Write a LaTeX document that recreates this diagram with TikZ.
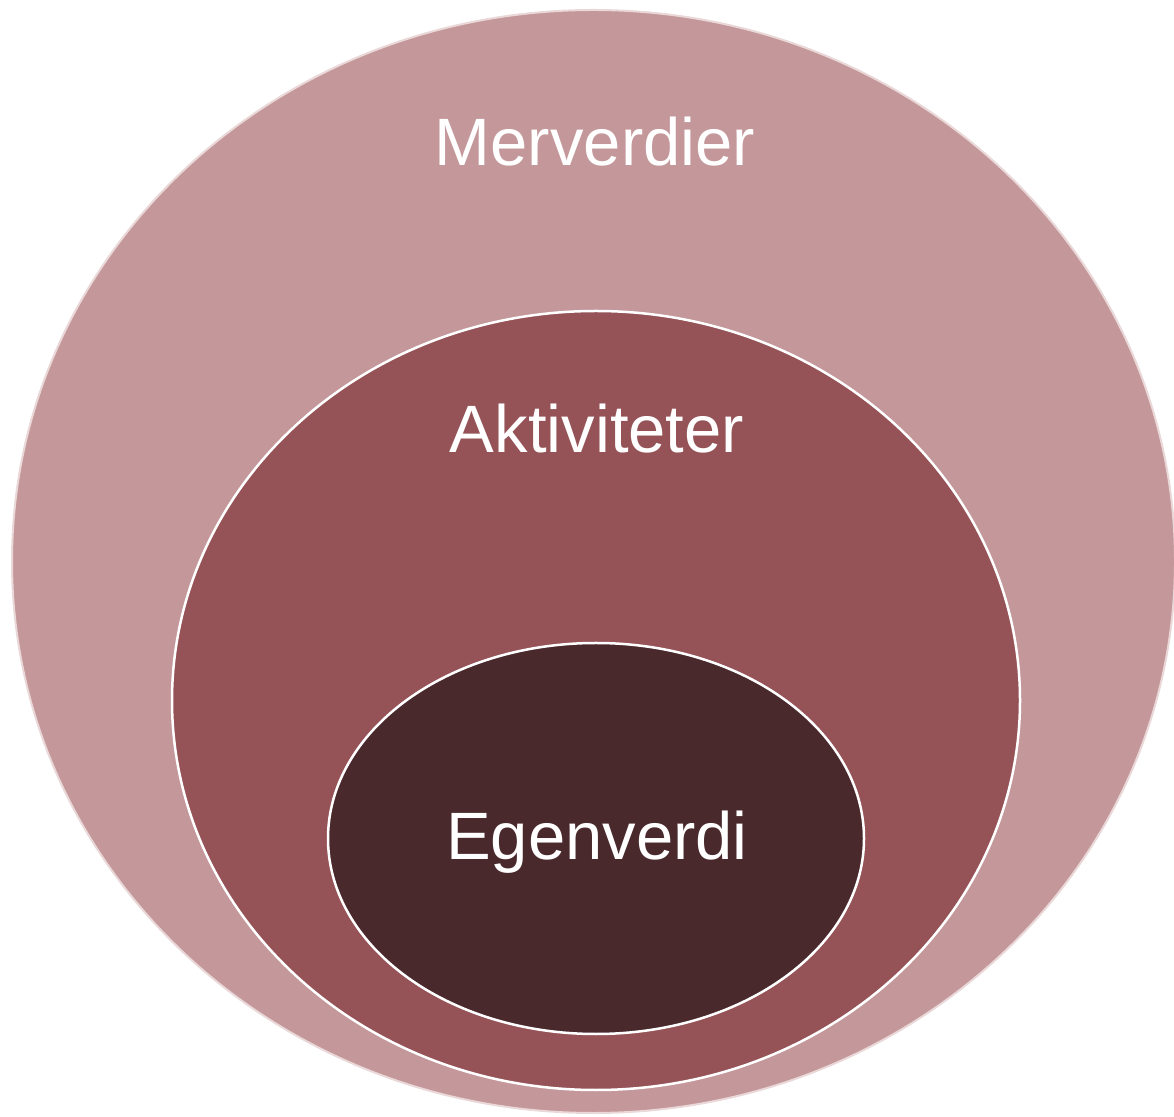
\documentclass[tikz,border=0pt]{standalone}
\usepackage{fontspec}
\setmainfont{Liberation Sans}
\usetikzlibrary{shapes.geometric}
\definecolor{outerc}{HTML}{C4989A}
\definecolor{midc}{HTML}{955357}
\definecolor{innerc}{HTML}{4A292D}
\definecolor{rimc}{HTML}{EAD8D9}
\begin{document}
\begin{tikzpicture}[x=1pt,y=1pt,
  ring/.style={ellipse, inner sep=0pt, outer sep=0pt},
  lbl/.style={text=white, font=\fontsize{67}{80}\selectfont, anchor=base, inner sep=0pt}]
\useasboundingbox (0,0) rectangle (1174,1116);
\clip (0,0) rectangle (1174,1116);
\node[ring, fill=outerc, draw=rimc, line width=2pt, minimum width=1163pt, minimum height=1103pt] (outer) at (593.5,554.5) {};
\node[ring, fill=midc, draw=white, line width=2.5pt, minimum width=848pt, minimum height=779pt] (mid) at (596,415.5) {};
\node[ring, fill=innerc, draw=white, line width=2.5pt, minimum width=536pt, minimum height=391pt] (inner) at (596,277.5) {};
\node[lbl] (t1) at (595,950) {Merverdier};
\node[lbl] (t2) at (597,663) {Aktiviteter};
\node[lbl] (t3) at (597,256) {Egenverdi};
\end{tikzpicture}
\end{document}
